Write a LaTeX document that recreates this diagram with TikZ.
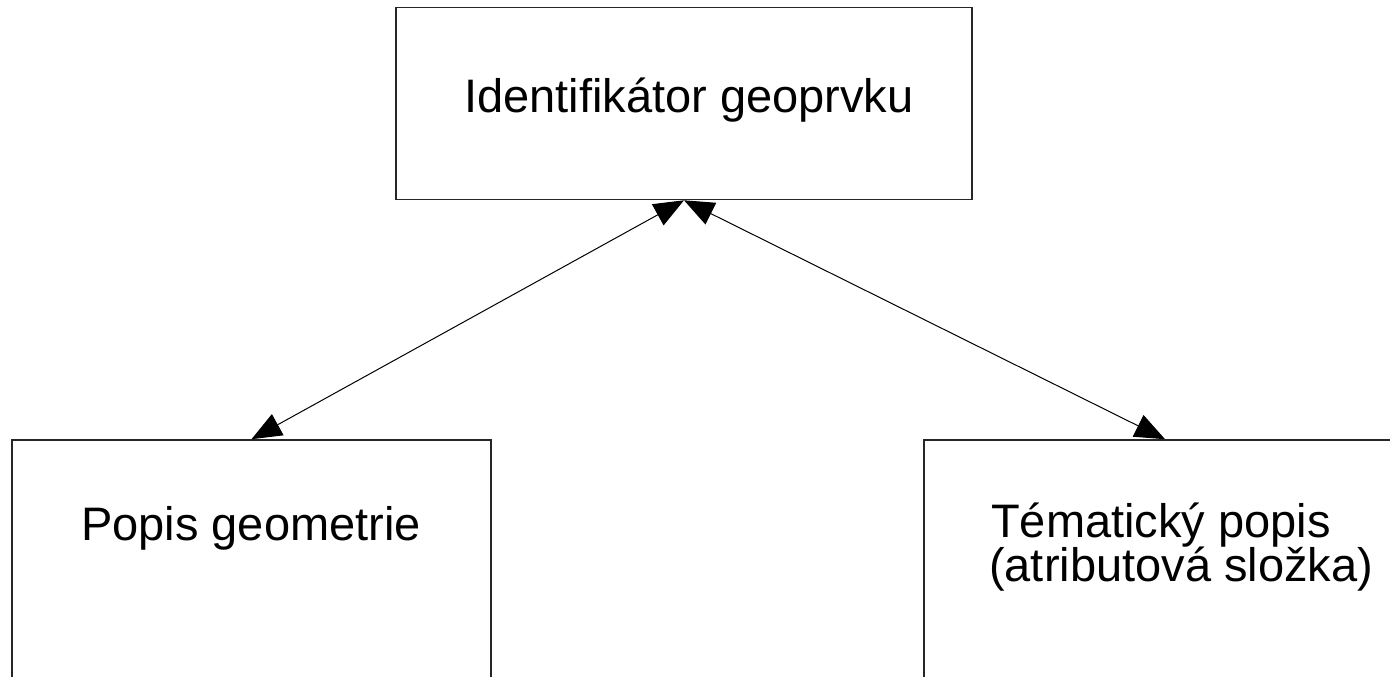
\documentclass[tikz,border=0pt]{standalone}
\usepackage{fontspec}
\setmainfont{Liberation Sans}
\usetikzlibrary{arrows.meta}
\begin{document}
\begin{tikzpicture}[x=1pt,y=-1pt,
  box/.style={draw=black!85, line width=1.6pt, minimum width=#1, inner sep=0pt},
  lbl/.style={anchor=base west, inner sep=0pt, font=\fontsize{47}{54}\selectfont},
  conn/.style={line width=1pt, {Triangle[length=30pt,width=24pt]}-{Triangle[length=30pt,width=24pt]}}]
\useasboundingbox (0,0) rectangle (1390,677);
\clip (0,0) rectangle (1390,677);
\node[box=576pt, minimum height=192pt] (top) at (684,103.5) {};
\node[box=479pt, minimum height=300pt] (left) at (251.5,590) {};
\node[box=482pt, minimum height=300pt] (right) at (1165,590) {};
\node[lbl] (ttop) at (464,113) {Identifikátor geoprvku};
\node[lbl] (tleft) at (81,540) {Popis geometrie};
\node[lbl] (tr1) at (991,537) {Tématický popis};
\node[lbl] (tr2) at (989,581) {(atributová složka)};
\draw[conn] (top.south) -- (left.north);
\draw[conn] (top.south) -- (right.north);
\end{tikzpicture}
\end{document}
